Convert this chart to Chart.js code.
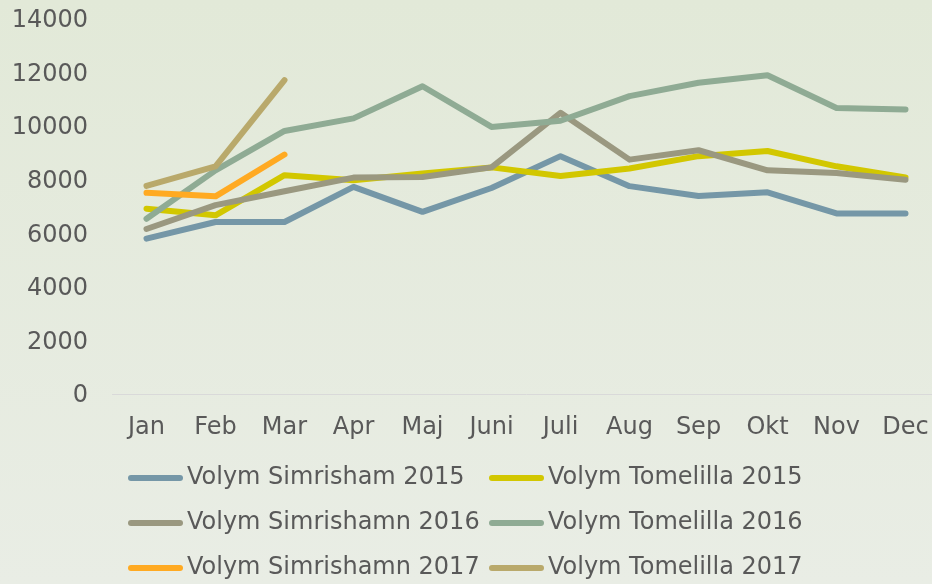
<!DOCTYPE html>
<html>
<head>
<meta charset="utf-8">
<script src="https://cdn.jsdelivr.net/npm/chart.js@4/dist/chart.umd.min.js"></script>
<style>
  html, body { margin: 0; padding: 0; overflow: hidden; }
  body { width: 932px; height: 584px; background: linear-gradient(#e2e9d8, #e9ede5); }
  #wrap { width: 940px; height: 584px; }
</style>
</head>
<body>
<div id="wrap"><canvas id="graf"></canvas></div>
<script>
const months = ['Jan', 'Feb', 'Mar', 'Apr', 'Maj', 'Juni', 'Juli', 'Aug', 'Sep', 'Okt', 'Nov', 'Dec'];

const simrisham2015 = [5800, 6420, 6420, 7730, 6800, 7690, 8880, 7760, 7390, 7530, 6740, 6740];
const tomelilla2015 = [6920, 6670, 8170, 7980, 8230, 8460, 8140, 8420, 8880, 9070, 8500, 8080];
const simrishamn2016 = [6160, 7050, 7570, 8080, 8100, 8460, 10500, 8750, 9100, 8350, 8250, 8000];
const tomelilla2016 = [6540, 8350, 9820, 10290, 11490, 9970, 10200, 11120, 11620, 11900, 10680, 10620];
const simrishamn2017 = [7510, 7380, 8940];
const tomelilla2017 = [7770, 8500, 11720];

const yTicks = [0, 2000, 4000, 6000, 8000, 10000, 12000, 14000];

const names = ['Volym Simrisham 2015', 'Volym Tomelilla 2015', 'Volym Simrishamn 2016',
  'Volym Tomelilla 2016', 'Volym Simrishamn 2017', 'Volym Tomelilla 2017'];
const colors = ['#7597a7', '#d2c700', '#9a9880', '#8fab94', '#ffaa22', '#b9a96b'];
const series = [simrisham2015, tomelilla2015, simrishamn2016, tomelilla2016, simrishamn2017, tomelilla2017];

const font = '"DejaVu Sans", Verdana, sans-serif';
const textColor = '#595959';

// legend in two fixed columns like the Excel one
const legendGrid = {
  id: 'legendGrid',
  afterDraw(chart) {
    const ctx = chart.ctx;
    const colX = [128, 489];
    const rowY = [478, 523, 568];
    ctx.save();
    ctx.font = '24px ' + font;
    ctx.textBaseline = 'middle';
    ctx.lineCap = 'round';
    chart.data.datasets.forEach((ds, i) => {
      const x = colX[i % 2];
      const y = rowY[Math.floor(i / 2)];
      ctx.strokeStyle = ds.borderColor;
      ctx.lineWidth = 6;
      ctx.beginPath();
      ctx.moveTo(x + 3, y);
      ctx.lineTo(x + 52, y);
      ctx.stroke();
      ctx.fillStyle = textColor;
      ctx.fillText(ds.label, x + 59, y);
    });
    ctx.restore();
  }
};

// no automatic label padding, the plot box is fixed
const noPad = (s) => { s.paddingLeft = 0; s.paddingRight = 0; s.paddingTop = 0; s.paddingBottom = 0; };

new Chart(document.getElementById('graf'), {
  type: 'line',
  data: {
    labels: months,
    datasets: series.map((d, i) => ({
      label: names[i],
      data: d,
      borderColor: colors[i],
      backgroundColor: colors[i],
      borderWidth: 6,
      borderCapStyle: 'round',
      borderJoinStyle: 'round',
      pointRadius: 0,
      tension: 0,
      order: 10 - i
    }))
  },
  options: {
    responsive: true,
    maintainAspectRatio: false,
    animation: false,
    layout: { padding: { top: 19, left: 0, right: 0, bottom: 0 } },
    plugins: { legend: { display: false }, tooltip: { enabled: false } },
    scales: {
      x: {
        offset: true,
        grid: { display: false, drawTicks: false },
        border: { display: true, color: '#d9d9d9', width: 1 },
        ticks: { color: textColor, font: { family: font, size: 24 }, padding: 19, maxRotation: 0, autoSkip: false },
        afterFit: (s) => { s.height = 190; noPad(s); }
      },
      y: {
        min: 0,
        max: 14000,
        afterBuildTicks: (s) => { s.ticks = yTicks.map(v => ({ value: v })); },
        grid: { display: false, drawTicks: false },
        border: { display: false },
        ticks: { color: textColor, font: { family: font, size: 24 }, padding: 24, labelOffset: 2, callback: (v) => String(v) },
        afterFit: (s) => { s.width = 112; noPad(s); }
      }
    }
  },
  plugins: [legendGrid]
});
</script>
</body>
</html>
